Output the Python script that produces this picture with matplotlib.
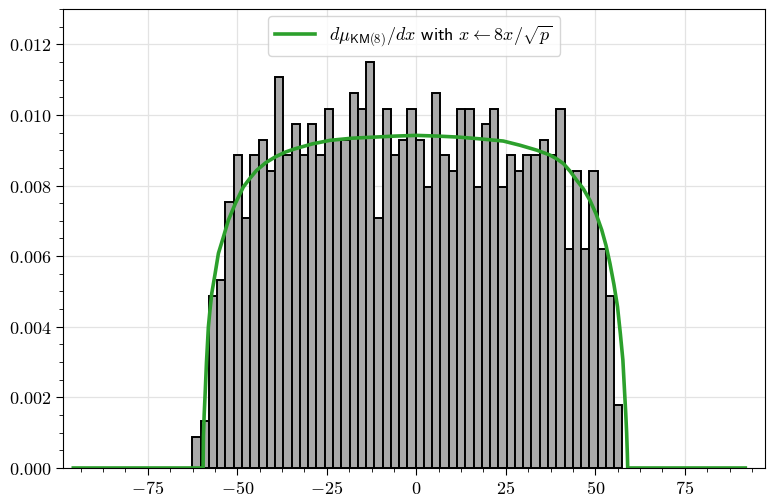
import numpy as np
import matplotlib
matplotlib.use("Agg")
import matplotlib.pyplot as plt
from matplotlib.ticker import FuncFormatter, MultipleLocator, AutoMinorLocator

plt.rcParams["mathtext.fontset"] = "cm"

# histogram: 52 equal-width bins between hist_lo and hist_hi, counts per bin
hist_lo = -62.54
hist_hi = 57.57
counts = [
    2, 3, 11, 12, 17, 20, 16, 20, 21, 19, 25, 20, 22,
    20, 22, 20, 23, 21, 21, 24, 23, 26, 16, 23, 20,
    21, 23, 21, 18, 24, 20, 19, 23, 23, 18, 22, 23, 18,
    20, 19, 20, 20, 21, 20, 23, 14, 19, 14, 19, 14, 11, 4,
]

# theoretical density curve
curve_x = [
    -95.8, -59.55, -59.45, -59.25, -59.0, -58.6, -58.07, -57.6, -57.12,
    -56.2, -55.27, -54.0, -52.48, -50.5, -48.3, -46.5, -44.6, -42.0,
    -39.4, -36.5, -33.9, -29.0, -24.1, -18.0, -12.0, -6.0, 0.0, 6.0,
    12.0, 18.0, 24.3, 29.0, 33.7, 37.4, 39.3, 41.1, 43.0, 44.8, 46.7,
    48.5, 50.2, 51.8, 53.0, 54.1, 55.2, 56.2, 57.0, 57.7, 58.1, 58.5,
    58.75, 58.95, 59.05, 91.9,
]
curve_y = [
    0.0, 0.0, 0.0009, 0.0015, 0.00205, 0.0030, 0.0040, 0.0045, 0.00495,
    0.0055, 0.00608, 0.0065, 0.00702, 0.0075, 0.00796, 0.0082, 0.00843,
    0.00865, 0.00881, 0.00895, 0.00904, 0.00918, 0.00928, 0.00934,
    0.00937, 0.0094, 0.00942, 0.0094, 0.00937, 0.00932, 0.00926,
    0.00914, 0.00900, 0.00886, 0.00875, 0.00862, 0.0084, 0.00815,
    0.0079, 0.00758, 0.0072, 0.00674, 0.0063, 0.00579, 0.0052, 0.00457,
    0.0038, 0.00306, 0.0023, 0.00155, 0.0010, 0.0004, 0.0, 0.0,
]

edges = np.linspace(hist_lo, hist_hi, len(counts) + 1)
centers = 0.5 * (edges[:-1] + edges[1:])

fig = plt.figure(figsize=(7.68, 4.97), dpi=100)
ax = fig.add_axes([0.0824, 0.0584, 0.9137, 0.9235])
ax.set_axisbelow(True)
ax.grid(True, which="major", color="#e3e3e3", linewidth=0.9)

ax.hist(centers, bins=edges, weights=counts, density=True,
        facecolor="#aaaaaa", edgecolor="black", linewidth=1.4)
ax.plot(curve_x, curve_y, color="#2ca02c", linewidth=2.6,
        solid_joinstyle="round",
        label=r"$d\mu_{\mathsf{KM(8)}}/dx$ $\mathsf{with}$ $x \leftarrow 8x/\sqrt{p}$")

ax.set_xlim(-98.6, 97.4)
ax.set_ylim(0, 0.013)
ax.xaxis.set_major_locator(MultipleLocator(25))
ax.xaxis.set_minor_locator(AutoMinorLocator(4))
ax.yaxis.set_major_locator(MultipleLocator(0.002))
ax.yaxis.set_minor_locator(AutoMinorLocator(4))
ax.xaxis.set_major_formatter(FuncFormatter(lambda v, _: f"${v:g}$"))
ax.yaxis.set_major_formatter(FuncFormatter(lambda v, _: f"${v:.3f}$"))
ax.tick_params(which="major", length=5, labelsize=13)
ax.tick_params(which="minor", length=3)

ax.legend(loc="upper center", fontsize=13, handlelength=2.2,
          borderaxespad=0.4, framealpha=0.8)

fig.savefig("out.png", dpi=100)
